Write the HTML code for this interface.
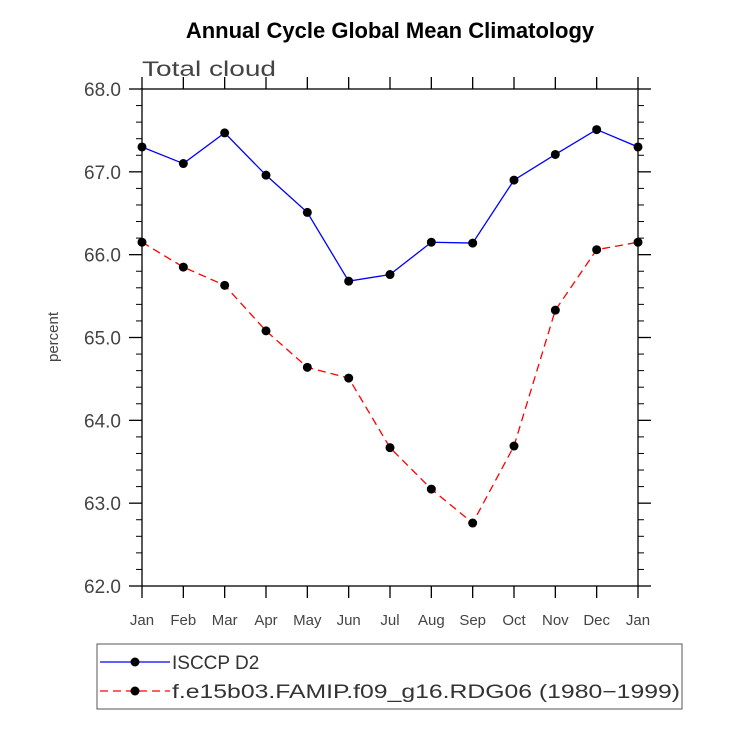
<!DOCTYPE html>
<html><head><meta charset="utf-8"><style>
body{margin:0;background:#fff;}
svg text{font-family:"Liberation Sans",sans-serif;}
</style></head><body>
<svg id="chart" width="729" height="729" xmlns="http://www.w3.org/2000/svg">
<text x="390" y="38" text-anchor="middle" font-size="22" font-weight="bold">Annual Cycle Global Mean Climatology</text>
<text x="142" y="76" font-size="21" fill="#444" textLength="134" lengthAdjust="spacingAndGlyphs">Total cloud</text>
<text transform="translate(58,337) rotate(-90)" text-anchor="middle" font-size="15" fill="#444">percent</text>
<g id="axes"></g>
<g id="series"></g>
<g>
<rect x="97" y="644" width="585" height="65" fill="none" stroke="#555" stroke-width="1"/>
<line x1="100" y1="662" x2="170" y2="662" stroke="#00f" stroke-width="1.3"/>
<circle cx="135" cy="662" r="4.5" fill="#000"/>
<text x="172" y="669" font-size="19" fill="#333">ISCCP D2</text>
<line x1="100" y1="691" x2="170" y2="691" stroke="#f00" stroke-width="1.3" stroke-dasharray="8,5"/>
<circle cx="135" cy="691" r="4.5" fill="#000"/>
<text x="172" y="698" font-size="19" fill="#333" textLength="508" lengthAdjust="spacingAndGlyphs">f.e15b03.FAMIP.f09_g16.RDG06 (1980−1999)</text>
</g>
</svg>
<script>
const months=["Jan","Feb","Mar","Apr","May","Jun","Jul","Aug","Sep","Oct","Nov","Dec","Jan"];
const isccp=[67.3,67.1,67.47,66.96,66.51,65.68,65.76,66.15,66.14,66.9,67.21,67.51,67.3];
const model=[66.15,65.85,65.63,65.08,64.64,64.51,63.67,63.17,62.76,63.69,65.33,66.06,66.15];
const yTicks=["62.0","63.0","64.0","65.0","66.0","67.0","68.0"];
const X0=142,X1=638,Y0=586,Y1=89,VMIN=62,VMAX=68;
const xs=i=>X0+i*(X1-X0)/(months.length-1);
const ys=v=>Y0-(v-VMIN)*(Y0-Y1)/(VMAX-VMIN);
const NS="http://www.w3.org/2000/svg";
const axes=document.getElementById('axes'),ser=document.getElementById('series');
function mk(p,tag,a){const e=document.createElementNS(NS,tag);for(const k in a)e.setAttribute(k,a[k]);p.appendChild(e);return e;}
const fr=mk(axes,'rect',{x:X0,y:Y1,width:X1-X0,height:Y0-Y1,fill:'none',stroke:'#000','stroke-width':1.3});


months.forEach((m,i)=>{
 const x=xs(i);
 mk(axes,'line',{x1:x,y1:Y0,x2:x,y2:Y0+12,stroke:'#000','stroke-width':1.3});
 mk(axes,'line',{x1:x,y1:Y1,x2:x,y2:Y1-12,stroke:'#000','stroke-width':1.3});
 const t=mk(axes,'text',{x:x,y:Y0+39,'text-anchor':'middle','font-size':15,fill:'#444'});
 t.textContent=m;
 
 
});
yTicks.forEach((s,i)=>{
 const v=parseFloat(s),y=ys(v);
 mk(axes,'line',{x1:X0-13,y1:y,x2:X0,y2:y,stroke:'#000','stroke-width':1.3});
 mk(axes,'line',{x1:X1,y1:y,x2:X1+13,y2:y,stroke:'#000','stroke-width':1.3});
 const t=mk(axes,'text',{x:X0-21,y:y+7,'text-anchor':'end','font-size':19,fill:'#444'});
 t.textContent=s;
 
 
 if(i<yTicks.length-1){for(let k=1;k<5;k++){const yy=ys(v+k*0.2);
  mk(axes,'line',{x1:X0-6,y1:yy,x2:X0,y2:yy,stroke:'#000','stroke-width':1});
  mk(axes,'line',{x1:X1,y1:yy,x2:X1+6,y2:yy,stroke:'#000','stroke-width':1});}}
});
function draw(data,color,dash,name){
 const pl=mk(ser,'polyline',{points:data.map((v,i)=>xs(i)+','+ys(v)).join(' '),fill:'none',stroke:color,'stroke-width':1.3});
 if(dash)pl.setAttribute('stroke-dasharray',dash);
 
 
 data.forEach((v,i)=>{const c=mk(ser,'circle',{cx:xs(i),cy:ys(v),r:4.5,fill:'#000'});
  
  });
}
draw(isccp,'#00f',null,'isccp');
draw(model,'#f00','8,5','model');
</script>
</body></html>
